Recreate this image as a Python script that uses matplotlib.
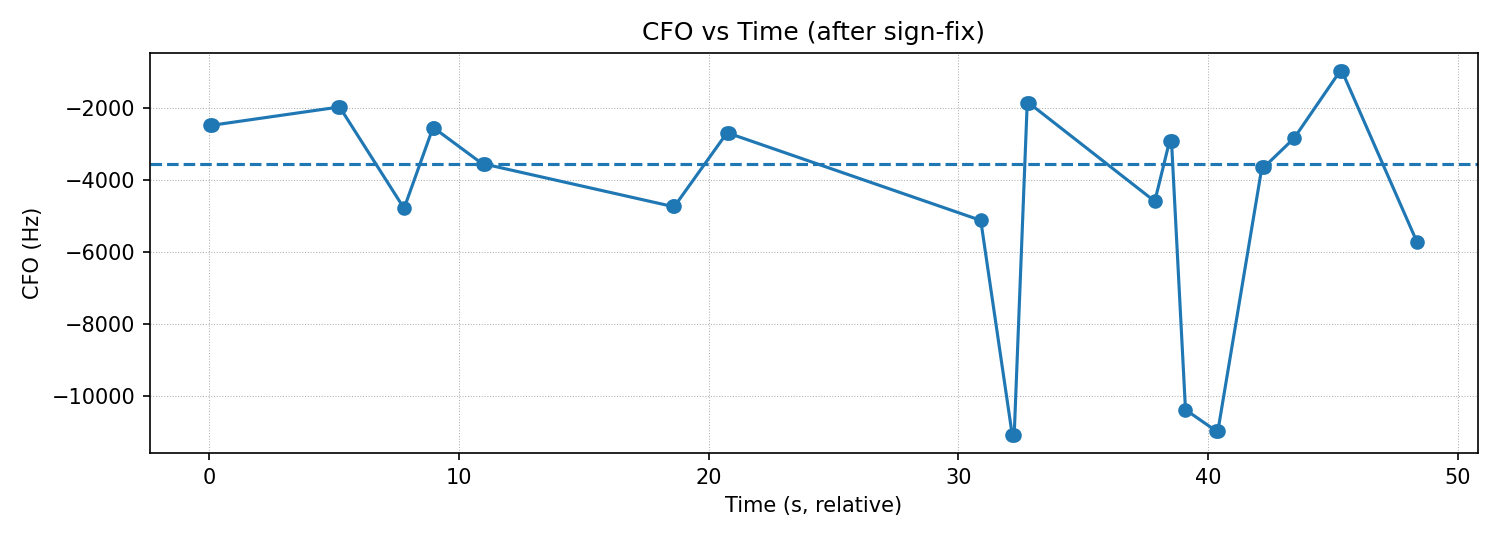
import matplotlib
matplotlib.use('Agg')
import matplotlib.pyplot as plt
import numpy as np

# time (s, relative) and CFO (Hz); wide blobs are two close samples
time_s = [0.04, 0.1, 5.15, 5.22, 7.8, 8.95, 9.0, 10.96, 11.04, 18.56, 18.63,
          20.72, 20.8, 30.9, 32.16, 32.24, 32.76, 32.84, 37.87, 38.46, 38.54,
          39.1, 40.32, 40.4, 42.16, 42.24, 43.45, 45.29, 45.37, 48.38]
cfo_hz = [-2480, -2475, -1972, -1968, -4787, -2558, -2552, -3560, -3558, -4735, -4732,
          -2700, -2697, -5122, -11090, -11087, -1865, -1862, -4592, -2922, -2918,
          -10390, -10978, -10975, -3648, -3644, -2836, -970, -968, -5735]
reference_hz = -3565


def main():
    fig, ax = plt.subplots(figsize=(10, 3.6), dpi=150)
    ax.plot(time_s, cfo_hz, marker='o', color='C0')
    ax.axhline(reference_hz, color='C0', linestyle='--')
    ax.set_title('CFO vs Time (after sign-fix)')
    ax.set_xlabel('Time (s, relative)')
    ax.set_ylabel('CFO (Hz)')
    ax.grid(True, linestyle=':', linewidth=0.5)
    fig.subplots_adjust(left=0.1, right=0.985, top=0.902, bottom=0.161)
    fig.savefig('out.png', dpi=150)


if __name__ == '__main__':
    main()
